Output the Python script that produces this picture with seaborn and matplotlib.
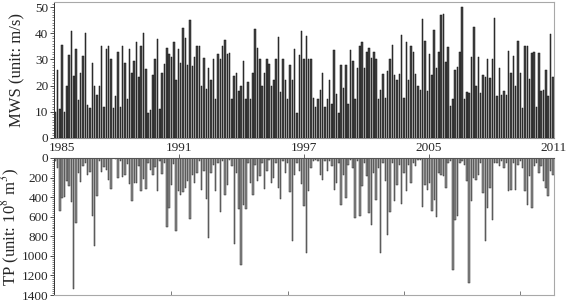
import numpy as np
import pandas as pd
import matplotlib
matplotlib.use("Agg")
import matplotlib.pyplot as plt
from matplotlib.ticker import MultipleLocator
from matplotlib.transforms import ScaledTranslation
import seaborn as sns

# Maximum wind speed (m/s) per event
mws = [
    10, 26, 11, 35.6, 10, 20, 31.8, 41, 23.5, 34,
    14.6, 24.8, 31.4, 40, 12.7, 11.5, 28.6, 20, 16.5, 20,
    35, 12, 34, 35, 30, 11.5, 16, 33, 12, 35,
    28.6, 15, 34, 24.8, 29.3, 36.5, 23.2, 35, 40, 26.5,
    9.7, 10.5, 24, 30, 37.8, 11, 24.8, 28.4, 34.2, 32,
    31, 36.6, 22, 34, 28.6, 42, 38, 27.7, 45, 27.3,
    31, 35, 35, 19.7,
    30.5, 18.8, 26.7, 22, 30, 15, 32, 30, 35, 37.5,
    32, 32.5, 15, 23.5, 24.8, 18, 19.7, 29.3, 15, 21.5,
    15, 24.8, 41.7, 34.2, 30, 19.7, 24.8, 30, 28.2, 19.7,
    22, 30, 38.4, 17.6, 30, 22.3, 15, 27.9, 22, 34,
    9.5, 31.8, 41, 30, 38.8, 30, 30, 15.3, 11.7, 15,
    18.4, 25, 12, 15, 22.3, 13, 33.7, 16.8, 9.5, 28,
    19, 28, 13, 33.7, 29.5, 15, 26.7, 35, 36.5, 26.7,
    32.7, 34.4,
    30.5, 33, 30, 15, 18.4, 24.6, 15.3, 25.4, 30, 35.6,
    24.2, 22.3, 24.6, 39.4, 15.3, 36.5, 22, 35.2, 33, 24.6,
    19.7, 18.2, 45.4, 37.2, 17.8, 32, 24.2, 41.3, 26.7, 33,
    47, 47.3, 29.1, 34.7, 12.3, 15, 25.8, 27.1, 33, 50,
    15, 17.6, 17.2, 31, 42.4, 20, 31, 17.2, 24, 23.3,
    30, 22.9, 30.2, 45.8, 16.2, 26.7, 16.3, 17.8, 16.5, 33.3,
    25, 31.2, 19.7, 36.9, 25, 11.5, 35, 35, 22.5, 32.4,
    32.7, 11.8, 32.4, 17.8, 18.4, 26, 16, 39.7, 23.3,
]

# Total precipitation (10^8 m^3) per event
tp = [
    30, 100, 545, 410, 400, 240, 290, 450, 1340, 660,
    150, 250, 80, 50, 170, 140, 590, 900, 390, 30,
    140, 90, 120, 220, 320, 5, 10, 200, 30, 190,
    170, 60, 270, 440, 260, 260, 80, 340, 210, 320,
    50, 120, 170, 90, 340, 30, 160, 50, 710, 510,
    280, 60, 745, 340,
    375, 348, 307, 240, 620, 170, 255, 153, 34, 324,
    136, 416, 818, 153, 68, 341, 51, 552, 34, 375,
    280, 17, 85, 880, 153, 522, 1091, 484, 522, 51,
    255, 375, 68, 240, 188, 51, 314, 136, 17, 255,
    205, 51, 307, 416, 34, 153, 51, 348, 853, 170,
    51, 136, 266, 494, 972, 341, 102, 34, 17, 34,
    170, 222, 34, 136, 34, 85, 324, 255, 51, 484,
    170, 409, 68, 17, 102, 614, 34, 597, 290, 51,
    188, 563,
    689, 153, 426, 102, 972, 51, 240, 784, 552, 51,
    443, 273, 68, 470, 153, 341, 68, 255, 51, 85,
    17, 17, 505, 273, 324, 255, 546, 426, 607, 153,
    170, 188, 307, 51, 34, 1142, 631, 597, 51, 34,
    68, 240, 1279, 443, 205, 222, 170, 51, 358, 853,
    511, 307, 631, 51, 51, 85, 34, 102, 51, 341,
    324, 51, 324, 68, 34, 102, 341, 477, 188, 511,
    85, 51, 153, 85, 240, 307, 392, 136, 170,
]

year_labels = ["1985", "1991", "1997", "2005", "2011"]
tp_ticks = [50, 100, 150, 200]

n = min(len(mws), len(tp))
df = pd.DataFrame({"idx": np.arange(n), "mws": mws[:n], "tp": tp[:n]})

sns.set_theme(style="ticks")
plt.rcParams["font.family"] = ["Liberation Serif", "DejaVu Serif"]
plt.rcParams["mathtext.fontset"] = "stix"

TICK_FS = 9.5
LABEL_FS = 12

W, H = 567, 303
fig = plt.figure(figsize=(W / 100, H / 100), dpi=100)
L, R = 54, 554
TOP1, BOT1 = 2, 138
TOP2, BOT2 = 158, 295
ax1 = fig.add_axes([L / W, 1 - BOT1 / H, (R - L) / W, (BOT1 - TOP1) / H])
ax2 = fig.add_axes([L / W, 1 - BOT2 / H, (R - L) / W, (BOT2 - TOP2) / H])

sns.barplot(data=df, x="idx", y="mws", ax=ax1, color="#454545", saturation=1,
            width=0.64, edgecolor="#111111", linewidth=0.35)
sns.barplot(data=df, x="idx", y="tp", ax=ax2, color="#8c8c8c", saturation=1,
            width=0.62, edgecolor="#2a2a2a", linewidth=0.35)

# ---- top panel (frame sits a little above the 50 gridline, as in the reference)
ax1.set_xlim(-0.5, n - 0.5)
ax1.set_ylim(0, 50 * (BOT1 - TOP1) / (BOT1 - 7))
ax1.set_xticks(np.linspace(-0.5, n - 0.5, len(year_labels)))
ax1.set_xticklabels(year_labels)
ax1.tick_params(axis="x", length=0, pad=3.0, labelsize=TICK_FS)
ax1.set_yticks([0, 10, 20, 30, 40, 50])
ax1.yaxis.set_minor_locator(MultipleLocator(1))
ax1.tick_params(axis="y", which="major", length=3, width=0.6, labelsize=TICK_FS, pad=1, color="#333333")
ax1.tick_params(axis="y", which="minor", length=1.5, width=0.5, color="#555555")
ax1.set_xlabel("")
ax1.set_ylabel("MWS (unit: m/s)", fontsize=LABEL_FS)
ax1.yaxis.set_label_coords(-0.058, 0.5)
for s in ("top", "right"):
    ax1.spines[s].set_visible(True)
    ax1.spines[s].set_color("#a8a8a8")
    ax1.spines[s].set_linewidth(0.8)
ax1.spines["left"].set_color("#333333")
ax1.spines["left"].set_linewidth(0.7)
ax1.spines["bottom"].set_color("#8a8a8a")
ax1.spines["bottom"].set_linewidth(0.8)

# keep the first year label clear of the two "0" labels at the left
first = ax1.get_xticklabels()[0]
first.set_ha("left")
first.set_transform(first.get_transform() + ScaledTranslation(-5 / 100, 0, fig.dpi_scale_trans))

# ---- bottom panel
ax2.set_xlim(-0.5, n - 0.5)
ax2.set_ylim(1400, 0)
ax2.set_xticks(tp_ticks)
ax2.set_xticklabels([])
ax2.tick_params(axis="x", direction="in", length=3, width=0.6, color="#666666")
ax2.yaxis.set_major_locator(MultipleLocator(200))
ax2.yaxis.set_minor_locator(MultipleLocator(20))
ax2.tick_params(axis="y", which="major", length=3, width=0.6, labelsize=TICK_FS, pad=1, color="#333333")
ax2.tick_params(axis="y", which="minor", length=1.5, width=0.5, color="#555555")
ax2.set_xlabel("")
ax2.set_ylabel(r"TP (unit: 10$^{8}$ m$^{3}$)", fontsize=LABEL_FS)
ax2.yaxis.set_label_coords(-0.064, 0.5)
for s in ("bottom", "right"):
    ax2.spines[s].set_visible(True)
    ax2.spines[s].set_color("#a8a8a8")
    ax2.spines[s].set_linewidth(0.8)
ax2.spines["top"].set_visible(True)
ax2.spines["top"].set_color("#555555")
ax2.spines["top"].set_linewidth(0.8)
ax2.spines["left"].set_color("#333333")
ax2.spines["left"].set_linewidth(0.7)

sec = ax2.secondary_xaxis("top")
sec.set_xticks(np.linspace(-0.5, n - 0.5, len(year_labels))[1:-1])
sec.set_xticklabels([])
sec.tick_params(axis="x", direction="out", length=3, width=0.6, color="#555555")
sec.spines["top"].set_visible(False)

fig.savefig("out.png", dpi=100)
